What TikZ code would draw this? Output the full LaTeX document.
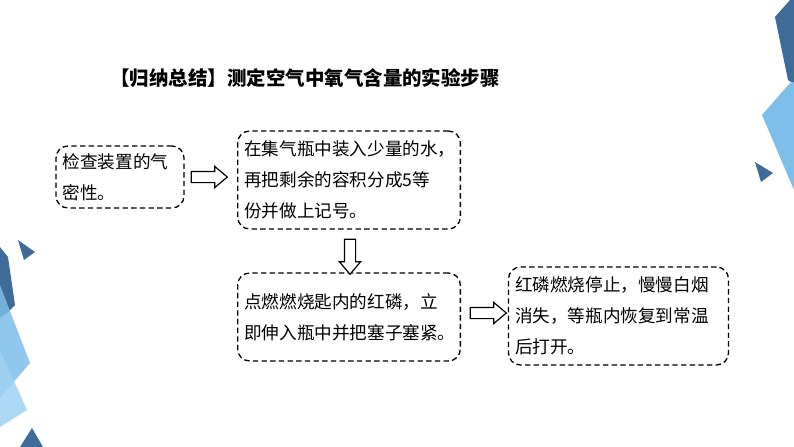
\documentclass[tikz,border=0pt]{standalone}
\usepackage{fontspec}
\setmainfont{Noto Sans CJK SC}
\usetikzlibrary{shapes.arrows}

\definecolor{decodark}{RGB}{62,107,152}
\definecolor{decolight}{RGB}{125,190,234}
\definecolor{decopale}{RGB}{160,210,242}

\tikzset{every picture/.style={line width=0.75pt}}

\begin{document}
\begin{tikzpicture}[x=0.75pt,y=0.75pt,yscale=-1,xscale=1,
  stepbox/.style={draw,line width=1pt,dash pattern={on 4pt off 2.5pt},rounded corners=9pt,
    inner xsep=5pt,inner ysep=0pt,align=left,font=\fontsize{13.2}{23.25}\selectfont},
  blockarrow/.style={shape=single arrow,draw,line width=0.9pt,fill=white,inner sep=0pt,
    single arrow head extend=3.75pt,single arrow tip angle=80,text height=7.5pt,text depth=0pt}]
\path[use as bounding box] (0,0) rectangle (794,447);

%decoration, right edge
\begin{scope}
\clip (0,0) rectangle (794,447);
\fill[decodark] (775,17) -- (790,0) -- (794,0) -- (794,84) -- (788,80) -- cycle ;
\fill[decolight] (762,115) -- (790,83) -- (794,82) -- (794,190) -- cycle ;
\fill[decodark] (755,162) -- (773,173) -- (761,182) -- cycle ;
%decoration, left edge
\fill[decodark] (18,240) -- (35,252) -- (24,260) -- cycle ;
\fill[decodark] (0,247) -- (8,257) -- (15,305) -- (7,313) -- (0,318) -- cycle ;
\fill[decolight,fill opacity=0.85] (0,285) -- (30,363) -- (0,398) -- cycle ;
\fill[decopale,fill opacity=0.85] (0,350) -- (27,410) -- (0,427) -- cycle ;
\fill[decodark] (32,428) -- (20,447) -- (43,447) -- cycle ;
\end{scope}

% Title
\node[anchor=west,inner sep=0pt,font=\fontsize{14.6}{17}\selectfont\bfseries] (title) at (110,78) {【归纳总结】测定空气中氧气含量的实验步骤};

% Steps
\node[stepbox,text width=86pt,minimum height=46.5pt] (check) at (120,177) {检查装置的气\\密性。};
\node[stepbox,text width=157pt,minimum height=73.5pt] (water) at (349,180) {在集气瓶中装入少量的水，\\再把剩余的容积分成5等\\份并做上记号。};
\node[stepbox,text width=157pt,minimum height=66pt] (burn) at (349,317) {点燃燃烧匙内的红磷，立\\即伸入瓶中并把塞子塞紧。};
\node[stepbox,text width=155pt,minimum height=73.5pt] (open) at (618.5,316) {红磷燃烧停止，慢慢白烟\\消失，等瓶内恢复到常温\\后打开。};

% Arrows
\node[blockarrow,minimum height=27pt] (a1) at (206,177) {};
\node[blockarrow,minimum height=26.25pt,rotate=-90] (a2) at (350,253.5) {};
\node[blockarrow,minimum height=27pt] (a3) at (485,313) {};

\end{tikzpicture}
\end{document}
